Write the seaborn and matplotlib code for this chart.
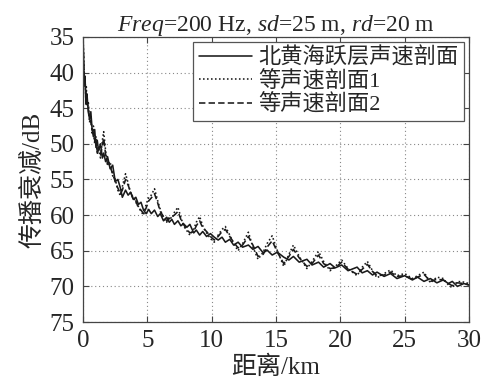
import matplotlib
matplotlib.use("Agg")
import matplotlib.pyplot as plt
import seaborn as sns
import pandas as pd

# Range samples (km)
range_km = [0, 0.05, 0.1, 0.15, 0.2, 0.25, 0.3, 0.4, 0.5, 0.6,
            0.7, 0.8, 0.9, 1.0, 1.1, 1.2, 1.35, 1.5, 1.6, 1.75,
            1.9, 2.1, 2.3, 2.5, 2.7, 2.9, 3.05, 3.3, 3.5, 3.7,
            3.9, 4.1, 4.3, 4.5, 4.7, 4.9, 5.1, 5.3, 5.55, 5.8,
            6.0, 6.25, 6.5, 6.7, 6.9, 7.1, 7.37, 7.6, 7.8, 8.07,
            8.3, 8.6, 8.8, 9.06, 9.3, 9.6, 9.9, 10.2, 10.5, 10.8,
            11.06, 11.4, 11.7, 12.05, 12.4, 12.85, 13.2, 13.6, 14.0, 14.3,
            14.7, 15.1, 15.6, 16.0, 16.35, 16.8, 17.4, 17.8, 18.3, 18.7,
            19.2, 19.6, 20.1, 20.6, 21.3, 21.7, 22.1, 22.5, 22.85, 23.4,
            23.9, 24.4, 25.0, 25.6, 26.0, 26.5, 27.0, 27.5, 28.0, 28.4,
            28.7, 29.1, 29.6, 30.0]

# Transmission loss (dB), thermocline sound-speed profile
tl_thermocline = [35, 39, 41.5, 40.5, 43.5, 44.5, 43, 45.5, 46.5, 45.5,
                  48, 49, 48, 50.5, 49.5, 51, 50, 52, 51.3, 52.5,
                  51.8, 53.5, 53, 55.3, 55, 56.2, 57.5, 56.5, 57.2, 56.8,
                  57.8, 57.5, 58.5, 58.2, 59.3, 59.8, 59.2, 59.8, 59.3, 60.2,
                  59.8, 60.8, 60.3, 61, 60.6, 61.3, 60.8, 61.5, 61.2, 61.7,
                  61.3, 62.5, 62.1, 62.8, 62.3, 63, 62.6, 63.1, 63.5, 63.1,
                  63.8, 63.4, 64.2, 63.8, 64.5, 64.2, 64.8, 64.4, 65.3, 64.9,
                  65.6, 65.2, 65.9, 66.3, 65.8, 66.6, 66.2, 67.0, 66.6, 67.3,
                  66.8, 67.4, 67.0, 67.8, 67.3, 68.1, 67.8, 68.4, 68.0, 68.6,
                  68.2, 68.9, 68.5, 69.1, 68.7, 69.3, 68.9, 69.5, 69.1, 69.6,
                  69.3, 70.0, 69.6, 69.8]

# Transmission loss (dB), iso-speed profile 1
tl_iso1 = [35.5, 38, 40.5, 41, 43, 42, 44.5, 44, 47, 46,
           48.5, 47.5, 50, 49, 51.5, 50.5, 52, 49.5, 48.3, 51,
           53, 52.5, 54.5, 55, 56.5, 57.3, 56, 54.2, 55.5, 57,
           57.5, 58.2, 58.8, 59.5, 60, 58.5, 57.5, 57.2, 56.3, 58,
           59.2, 60.5, 61, 60.2, 60.5, 59.6, 58.9, 60.3, 61.5, 62.2,
           62.8, 62, 61, 60.2, 61.5, 62.5, 63.3, 63.8, 62.8, 62,
           61.6, 62.8, 64, 65, 64, 62.4, 64.5, 66.2, 65.2, 64,
           62.9, 65, 67.2, 65.5, 64.2, 65.8, 67.5, 66.5, 65.1, 66.5,
           67.8, 67.2, 66.3, 67.5, 68.5, 67.3, 66.5, 67.8, 68.8, 68.2,
           67.7, 68.5, 68.2, 68.9, 68.5, 68.0, 69.5, 68.7, 68.9, 69.8,
           70.2, 69.3, 69.4, 69.6]

# Transmission loss (dB), iso-speed profile 2
tl_iso2 = [35.8, 39, 41, 42, 42.5, 43.5, 44, 45, 46.5, 47,
           48, 48.5, 49.5, 50, 51, 51.5, 51.5, 50.2, 49.2, 51.5,
           52.8, 53.2, 54.2, 55.3, 56.2, 57, 56.5, 55, 55.8, 56.8,
           57.8, 58, 59, 59.3, 59.8, 59, 58, 57.6, 57, 58.3,
           59.5, 60.2, 60.8, 60.5, 60.2, 60, 59.5, 60.6, 61.3, 62,
           62.5, 62.3, 61.5, 60.8, 61.8, 62.3, 63, 63.5, 63, 62.3,
           62, 63, 63.8, 64.6, 64.2, 63, 64.2, 65.8, 65.5, 64.5,
           63.6, 65.2, 66.8, 65.8, 64.8, 66, 67.2, 66.8, 65.6, 66.8,
           67.5, 67.4, 66.6, 67.6, 68.3, 67.6, 66.9, 67.9, 68.5, 68.4,
           68, 68.6, 68.5, 69, 68.7, 68.3, 69.3, 69, 69.1, 69.6,
           69.9, 69.5, 69.6, 69.8]

series_names = ["北黄海跃层声速剖面", "等声速剖面1", "等声速剖面2"]
x_ticks = [0, 5, 10, 15, 20, 25, 30]
y_ticks = [35, 40, 45, 50, 55, 60, 65, 70, 75]

frames = []
for name, vals in zip(series_names, [tl_thermocline, tl_iso1, tl_iso2]):
    frames.append(pd.DataFrame({"range": range_km, "tl": vals, "profile": name}))
df = pd.concat(frames, ignore_index=True)

sns.set_style("ticks")
plt.rcParams["font.family"] = ["Liberation Serif", "Noto Sans CJK SC", "DejaVu Sans"]
plt.rcParams["mathtext.fontset"] = "custom"
plt.rcParams["mathtext.rm"] = "Liberation Serif"
plt.rcParams["mathtext.it"] = "Liberation Serif:italic"

fig = plt.figure(figsize=(4.86, 3.88), dpi=100)
ax = fig.add_axes([0.171, 0.170, 0.794, 0.735])

sns.lineplot(data=df, x="range", y="tl", style="profile",
             style_order=series_names,
             dashes={series_names[0]: "", series_names[1]: (1, 1.5),
                     series_names[2]: (4, 2)},
             color="#1a1a1a", linewidth=1.15, sort=False, ax=ax)

ax.set_xlim(0, 30)
ax.set_ylim(75, 35)
ax.set_xticks(x_ticks)
ax.set_yticks(y_ticks)
ax.grid(True, linestyle=(0, (1, 2.5)), color="#888888", linewidth=0.8)
ax.tick_params(direction="in", top=True, right=True, length=4,
               labelsize=18, color="#444444")
ax.tick_params(axis="x", pad=6)
ax.tick_params(axis="y", pad=6)
for s in ax.spines.values():
    s.set_color("#444444")
    s.set_linewidth(0.9)

ax.set_xlabel("距离/km", fontsize=18, labelpad=2)
ax.set_ylabel("传播衰减/dB", fontsize=18, labelpad=4)
ax.set_title(r"$Freq$=200 Hz, $sd$=25 m, $rd$=20 m", fontsize=17, pad=4)

handles, labels = ax.get_legend_handles_labels()
leg = ax.legend(handles, labels, loc="upper right", bbox_to_anchor=(0.988, 0.982),
                fontsize=16, frameon=True, fancybox=False, framealpha=1,
                edgecolor="#555555", handlelength=2.4, handletextpad=0.3,
                labelspacing=0.1, borderpad=0.25, borderaxespad=0)
leg.get_frame().set_linewidth(0.9)

fig.savefig("out.png", dpi=100)
